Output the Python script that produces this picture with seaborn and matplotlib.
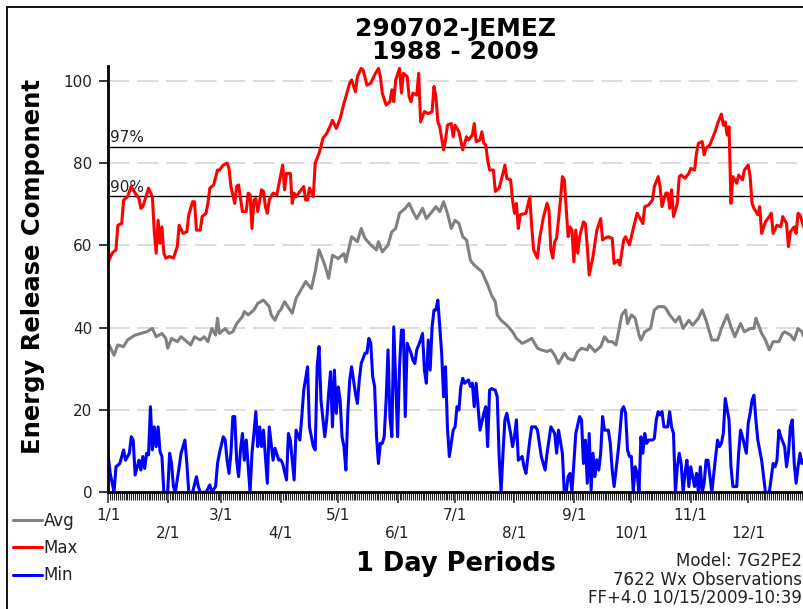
import pandas as pd
import matplotlib.pyplot as plt
import seaborn as sns
from matplotlib.patches import Rectangle
from matplotlib.ticker import FixedLocator, MultipleLocator

# day of year (0 = Jan 1) and value
max_days = [0, 2, 4, 5, 7, 8, 10, 12, 14, 16, 17, 18, 20, 21, 23, 24, 25, 26, 27, 28,
            29, 30, 32, 34, 36, 37, 39, 41, 42, 44, 45, 46, 48, 49, 51, 52, 53, 55, 57, 58,
            60, 62, 63, 64, 66, 67, 68, 70, 72, 73, 74, 75, 76, 77, 78, 80, 81, 82, 83, 84,
            86, 88, 90, 91, 92, 93, 95, 96, 97, 98, 100, 102, 103, 104, 105, 107, 108, 110, 111, 112,
            114, 116, 117, 119, 121, 123, 124, 126, 127, 129, 130, 132, 133, 135, 137, 139, 141, 142, 143, 145,
            147, 148, 149, 150, 152, 153, 154, 156, 157, 158, 159, 161, 162, 163, 165, 167, 169, 170, 171, 172,
            173, 175, 176, 177, 179, 180, 181, 183, 185, 187, 188, 190, 191, 192, 194, 195, 196, 197, 198, 199,
            201, 202, 204, 206, 207, 208, 210, 211, 212, 213, 214, 215, 218, 220, 221, 222, 224, 225, 227, 229,
            230, 231, 232, 233, 234, 236, 237, 238, 240, 241, 242, 243, 244, 245, 246, 248, 249, 250, 251, 253,
            254, 255, 257, 258, 259, 261, 263, 264, 266, 267, 269, 270, 272, 273, 274, 276, 277, 279, 280, 282,
            284, 285, 286, 287, 288, 289, 291, 292, 293, 294, 295, 297, 298, 299, 301, 303, 304, 306, 307, 308,
            310, 311, 312, 314, 315, 317, 318, 320, 321, 322, 323, 324, 325, 326, 328, 329, 331, 332, 334, 335,
            336, 337, 339, 340, 341, 343, 345, 346, 347, 349, 351, 352, 354, 355, 356, 358, 359, 360, 361, 363,
            364]
max_vals = [56.0, 58.1, 58.9, 64.9, 65.3, 71.0, 71.8, 74.3, 72.7, 71.4, 69.0, 69.4, 72.3, 73.9, 71.8, 63.3, 58.1, 66.1, 60.5, 64.5,
            58.1, 56.9, 57.3, 56.9, 59.7, 64.9, 62.9, 63.3, 67.4, 70.6, 70.6, 63.7, 63.7, 67.0, 67.8, 70.2, 73.9, 74.7, 78.3, 78.3,
            79.5, 80.0, 78.7, 74.3, 70.2, 74.3, 74.7, 68.2, 68.2, 72.7, 72.3, 64.1, 71.0, 71.4, 68.2, 73.5, 73.1, 69.4, 67.8, 71.0,
            72.7, 72.3, 77.1, 79.5, 73.5, 77.5, 77.5, 70.2, 72.7, 71.8, 73.1, 74.3, 71.0, 71.0, 73.9, 71.8, 80.0, 82.4, 84.0, 86.0,
            87.2, 89.2, 90.4, 88.4, 90.8, 94.5, 96.1, 99.4, 100.2, 97.3, 101.0, 103.0, 102.6, 98.9, 99.4, 101.4, 103.0, 101.0, 97.0, 94.1,
            94.9, 97.8, 94.9, 100.2, 103.0, 97.0, 101.8, 101.0, 96.1, 94.9, 97.0, 96.5, 101.8, 90.0, 92.5, 92.0, 92.5, 98.6, 96.1, 90.0,
            88.8, 83.2, 85.6, 89.2, 89.6, 86.4, 89.2, 87.6, 83.2, 86.4, 85.6, 86.8, 89.6, 85.2, 85.6, 87.6, 84.8, 84.4, 80.8, 78.3,
            78.3, 73.1, 73.9, 77.5, 79.5, 76.3, 75.9, 71.0, 67.8, 70.2, 64.1, 67.4, 67.8, 71.8, 64.5, 58.9, 56.9, 61.3, 66.6, 70.2,
            68.6, 58.9, 56.9, 60.9, 61.7, 71.0, 76.7, 75.9, 62.1, 64.5, 63.7, 56.0, 63.7, 58.1, 62.1, 65.7, 65.3, 59.7, 52.8, 57.3,
            60.5, 63.7, 66.5, 61.3, 61.7, 62.1, 61.7, 55.6, 56.4, 55.2, 61.3, 62.1, 60.1, 62.1, 64.1, 67.8, 67.0, 65.3, 69.4, 69.8,
            71.0, 74.3, 75.5, 76.7, 74.3, 69.4, 72.7, 72.7, 69.0, 73.5, 67.0, 70.2, 76.7, 77.1, 76.3, 77.5, 78.7, 78.3, 82.4, 84.8,
            85.2, 82.0, 83.6, 84.4, 85.6, 88.0, 89.6, 91.9, 89.2, 90.0, 86.8, 88.8, 70.2, 76.7, 75.1, 77.1, 75.9, 78.3, 79.5, 76.7,
            70.2, 69.0, 67.4, 69.4, 62.9, 65.7, 67.0, 67.8, 62.9, 64.9, 64.5, 67.0, 65.3, 59.7, 63.3, 64.5, 62.9, 67.8, 67.4, 64.5,
            62.5]

avg_days = [0, 3, 5, 8, 10, 14, 17, 20, 23, 25, 28, 30, 31, 33, 36, 38, 41, 43, 45, 48,
            50, 52, 54, 56, 57, 58, 61, 63, 65, 67, 70, 71, 73, 76, 78, 81, 84, 85, 87, 89,
            90, 92, 96, 98, 103, 106, 108, 110, 113, 115, 117, 120, 123, 124, 127, 130, 132, 134, 137, 140,
            141, 143, 146, 148, 150, 152, 155, 157, 159, 161, 164, 166, 169, 171, 173, 175, 177, 179, 181, 183,
            185, 187, 189, 191, 195, 198, 200, 202, 203, 205, 208, 211, 213, 216, 218, 221, 224, 226, 229, 231,
            233, 235, 238, 240, 243, 245, 247, 250, 251, 254, 257, 259, 261, 263, 265, 266, 268, 270, 271, 273,
            275, 277, 278, 280, 283, 285, 287, 290, 291, 293, 296, 298, 300, 303, 305, 308, 310, 312, 315, 318,
            320, 323, 325, 327, 330, 332, 335, 337, 338, 341, 343, 345, 347, 350, 352, 353, 356, 358, 360, 362,
            363, 365]
avg_vals = [36.2, 33.3, 35.8, 35.4, 37.0, 38.2, 38.6, 39.0, 39.8, 37.8, 38.6, 37.4, 35.0, 37.4, 36.6, 37.8, 36.6, 35.8, 37.8, 37.0,
            37.8, 36.6, 39.8, 38.2, 42.3, 38.6, 39.8, 38.6, 39.0, 41.0, 42.7, 43.9, 43.1, 44.3, 45.9, 46.7, 45.1, 43.1, 41.8, 43.9,
            44.3, 46.3, 43.5, 47.1, 51.2, 49.5, 53.6, 58.9, 55.2, 52.0, 57.6, 56.8, 58.0, 56.0, 62.1, 60.9, 64.1, 61.7, 60.1, 58.9,
            60.9, 58.4, 60.1, 63.3, 64.1, 67.8, 69.0, 70.2, 68.2, 66.5, 69.0, 66.5, 68.2, 69.4, 68.2, 70.6, 67.8, 64.1, 66.1, 65.3,
            62.1, 61.3, 56.4, 55.2, 53.6, 50.4, 47.9, 46.3, 43.1, 41.8, 40.6, 39.0, 37.4, 36.2, 36.6, 37.4, 35.0, 34.6, 34.2, 34.6,
            33.3, 31.3, 33.8, 32.5, 32.1, 34.2, 35.0, 34.6, 35.8, 34.2, 35.4, 37.8, 36.6, 36.6, 35.8, 38.2, 43.1, 44.3, 41.0, 43.1,
            42.3, 38.2, 37.0, 39.0, 39.8, 44.3, 45.1, 45.1, 44.7, 43.1, 41.4, 42.7, 39.8, 41.8, 40.6, 42.3, 44.3, 41.8, 37.0, 37.0,
            39.8, 43.1, 40.2, 37.8, 41.0, 39.0, 39.8, 39.8, 42.3, 38.6, 37.0, 34.6, 36.6, 36.6, 38.6, 39.0, 38.2, 37.0, 39.8, 39.0,
            37.8, 38.5]

min_days = [0, 1, 3, 4, 6, 8, 9, 11, 12, 13, 14, 16, 17, 18, 19, 20, 21, 22, 23, 24,
            25, 26, 27, 28, 29, 31, 32, 33, 34, 35, 37, 38, 40, 41, 42, 44, 46, 47, 48, 51,
            53, 54, 56, 57, 58, 60, 61, 62, 63, 64, 65, 66, 67, 68, 69, 70, 71, 72, 73, 74,
            75, 76, 77, 78, 79, 80, 81, 83, 84, 85, 86, 87, 89, 90, 91, 93, 94, 95, 97, 98,
            100, 101, 102, 104, 105, 107, 108, 109, 110, 111, 113, 114, 115, 116, 117, 118, 119, 120, 121, 122,
            123, 124, 125, 126, 127, 129, 130, 131, 132, 134, 135, 136, 137, 138, 139, 140, 141, 142, 143, 144,
            145, 146, 147, 148, 149, 150, 151, 152, 153, 154, 155, 156, 158, 159, 160, 161, 163, 164, 165, 166,
            167, 168, 169, 170, 171, 172, 173, 174, 175, 176, 177, 178, 179, 180, 181, 182, 183, 184, 185, 186,
            188, 189, 190, 191, 192, 193, 194, 196, 197, 198, 199, 200, 202, 203, 204, 205, 206, 207, 208, 210,
            211, 212, 213, 214, 216, 217, 218, 220, 221, 223, 224, 226, 228, 229, 231, 233, 234, 235, 237, 238,
            239, 240, 241, 242, 243, 244, 246, 247, 248, 249, 250, 251, 252, 253, 254, 255, 256, 257, 258, 259,
            261, 262, 263, 264, 266, 267, 268, 269, 270, 271, 272, 273, 274, 275, 276, 277, 278, 279, 280, 281,
            282, 284, 285, 286, 287, 288, 289, 290, 292, 293, 294, 295, 296, 297, 298, 299, 300, 301, 302, 303,
            304, 306, 307, 308, 309, 310, 311, 312, 313, 314, 315, 317, 318, 319, 320, 321, 322, 324, 325, 326,
            328, 329, 330, 331, 333, 334, 335, 336, 337, 338, 339, 341, 342, 343, 345, 347, 348, 349, 350, 351,
            353, 354, 355, 356, 357, 358, 359, 360, 361, 362, 363]
min_vals = [8.7, 4.6, 0.0, 6.2, 7.0, 10.3, 7.8, 9.5, 13.5, 12.7, 4.2, 7.8, 5.4, 8.7, 5.8, 9.5, 9.1, 20.8, 10.3, 15.9,
            11.1, 15.9, 9.9, 8.7, 0.0, 0.0, 9.5, 7.0, 1.4, 0.0, 6.2, 9.5, 12.7, 7.0, 0.0, 0.0, 3.8, 1.4, 0.0, 0.0,
            1.8, 0.0, 1.4, 7.0, 9.5, 13.5, 12.7, 7.8, 4.6, 9.5, 18.4, 18.4, 7.8, 3.8, 10.3, 14.3, 7.8, 12.7, 6.2, 0.0,
            9.5, 14.3, 19.6, 11.1, 15.9, 11.1, 15.1, 2.2, 15.9, 11.9, 7.8, 10.7, 7.8, 7.9, 7.0, 3.0, 14.3, 12.7, 3.0, 15.1,
            12.7, 18.4, 24.8, 30.5, 15.9, 11.1, 10.3, 30.5, 35.4, 22.4, 13.5, 17.6, 24.0, 29.3, 15.9, 29.7, 19.2, 25.6, 22.4, 13.5,
            11.1, 5.4, 19.2, 27.3, 30.5, 24.0, 21.6, 27.3, 31.3, 33.8, 33.8, 37.4, 36.2, 28.1, 25.7, 13.5, 7.0, 11.9, 11.9, 13.5,
            22.4, 34.6, 18.4, 13.5, 40.2, 26.5, 13.5, 30.5, 39.4, 39.4, 18.4, 36.2, 33.8, 32.1, 31.3, 34.6, 37.0, 38.6, 29.7, 26.5,
            37.0, 29.7, 40.2, 44.3, 44.3, 46.7, 40.2, 33.8, 23.2, 30.5, 15.9, 8.7, 11.9, 15.1, 15.9, 20.8, 20.0, 25.7, 27.7, 26.5,
            27.3, 25.7, 26.5, 20.8, 26.5, 20.8, 15.1, 19.2, 20.8, 11.1, 24.8, 25.2, 24.8, 23.2, 8.7, 0.0, 9.5, 17.6, 19.2, 14.3,
            11.1, 13.5, 17.6, 7.8, 8.7, 6.2, 4.6, 12.7, 15.9, 15.9, 15.1, 8.7, 5.4, 9.5, 15.9, 14.3, 9.5, 15.1, 9.5, 0.0,
            0.0, 3.8, 4.6, 0.0, 7.0, 14.3, 18.4, 17.6, 7.0, 12.7, 2.2, 14.3, 0.6, 9.5, 3.8, 7.9, 5.4, 9.5, 18.4, 15.1,
            15.1, 11.9, 5.4, 1.4, 9.5, 14.3, 20.0, 20.8, 19.2, 10.3, 8.7, 8.7, 0.0, 6.2, 4.6, 0.0, 13.5, 9.5, 14.3, 11.9,
            12.7, 12.7, 13.1, 17.6, 19.6, 18.8, 19.6, 15.9, 15.9, 19.6, 15.9, 14.3, 0.0, 6.2, 9.5, 7.0, 0.0, 4.6, 7.8, 1.4,
            6.2, 1.4, 4.6, 0.0, 6.2, 0.0, 2.2, 7.8, 7.8, 3.8, 0.0, 8.7, 12.7, 11.1, 11.9, 14.3, 22.8, 17.6, 6.2, 1.4,
            1.4, 9.5, 15.1, 13.5, 9.5, 16.8, 19.2, 22.4, 23.6, 17.6, 12.7, 7.8, 3.8, 0.0, 0.0, 7.0, 6.2, 7.8, 15.1, 13.5,
            11.1, 6.2, 9.5, 15.9, 17.6, 7.0, 2.2, 6.2, 9.5, 7.0, 8.0]

month_days = [0, 31, 59, 90, 120, 151, 181, 212, 243, 273, 304, 334]
month_labels = ["1/1", "2/1", "3/1", "4/1", "5/1", "6/1", "7/1", "8/1", "9/1", "10/1", "11/1", "12/1"]

avg_df = pd.DataFrame({"day": avg_days, "erc": avg_vals})
max_df = pd.DataFrame({"day": max_days, "erc": max_vals})
min_df = pd.DataFrame({"day": min_days, "erc": min_vals})

sns.set_style("white")
plt.rcParams["font.family"] = ["DejaVu Sans"]
plt.rcParams["text.color"] = "black"

fig = plt.figure(figsize=(8.04, 6.09), dpi=100)
ax = fig.add_axes([0.1347, 0.1916, 0.8698, 0.6995])

# dashed grid at the labelled levels
for lvl in [20, 40, 60, 80, 100]:
    ax.axhline(lvl, color="#d3d3d3", lw=1.1, ls=(0, (14, 5)), zorder=0)

# percentile lines
ax.axhline(84, color="black", lw=1.0, zorder=1)
ax.axhline(72, color="black", lw=1.0, zorder=1)
ax.text(1, 84.3, "97%", fontsize=11, color="#222222", va="bottom", ha="left")
ax.text(1, 72.3, "90%", fontsize=11, color="#222222", va="bottom", ha="left")

sns.lineplot(data=avg_df, x="day", y="erc", estimator=None, sort=False, color="#808080", lw=2.6, ax=ax, label="Avg")
sns.lineplot(data=max_df, x="day", y="erc", estimator=None, sort=False, color="#ff0000", lw=1.5, ax=ax, label="Max")
sns.lineplot(data=min_df, x="day", y="erc", estimator=None, sort=False, color="#0000ff", lw=1.5, ax=ax, label="Min")

ax.set_xlim(0, 365)
ax.set_ylim(0, 103.5)

# spines
for side in ["top", "right"]:
    ax.spines[side].set_visible(False)
for side in ["left", "bottom"]:
    ax.spines[side].set_linewidth(2)
    ax.spines[side].set_color("black")

# y axis
ax.set_yticks([0, 20, 40, 60, 80, 100])
ax.tick_params(axis="y", direction="out", length=6.5, width=1.1, pad=5, labelsize=11, colors="black", left=True)
for lbl in ax.get_yticklabels():
    lbl.set_color("#222222")

# x axis: month ticks, staggered labels, daily minor ticks
stagger = [lab if i % 2 == 0 else "\n" + lab for i, lab in enumerate(month_labels)]
ax.xaxis.set_major_locator(FixedLocator(month_days))
ax.set_xticklabels(stagger)
ax.xaxis.set_minor_locator(MultipleLocator(1))
ax.tick_params(axis="x", which="major", direction="out", length=8, width=1.1, pad=3, labelsize=11, bottom=True)
ax.tick_params(axis="x", which="minor", direction="out", length=5.5, width=0.8, bottom=True)
for lbl in ax.get_xticklabels():
    lbl.set_linespacing(1.3)
    lbl.set_color("#222222")

ax.set_xlabel("")
ax.set_ylabel("")

# legend in the lower left corner
handles, labels = ax.get_legend_handles_labels()
ax.get_legend().remove()
for h in handles:
    h.set_linewidth(2.2)
fig.legend(handles, labels, loc="upper left", bbox_to_anchor=(13 / 804, 1 - 512 / 609),
           frameon=False, fontsize=12, handlelength=1.75, handletextpad=0.1,
           labelspacing=0.55, borderpad=0, borderaxespad=0, labelcolor="#222222")

# titles and labels
fig.text(456 / 804, 1 - 29 / 609, "290702-JEMEZ", ha="center", va="center", fontsize=18, fontweight="bold")
fig.text(456 / 804, 1 - 52 / 609, "1988 - 2009", ha="center", va="center", fontsize=18, fontweight="bold")
fig.text(456 / 804, 1 - 564 / 609, "1 Day Periods", ha="center", va="center", fontsize=18.5, fontweight="bold")
fig.text(33 / 804, 1 - 267 / 609, "Energy Release Component", ha="center", va="center",
         rotation=90, fontsize=17.5, fontweight="bold")

fig.text(802 / 804, 1 - 561 / 609, "Model: 7G2PE2", ha="right", va="center", fontsize=12, color="#222222")
fig.text(802 / 804, 1 - 580 / 609, "7622 Wx Observations", ha="right", va="center", fontsize=12, color="#222222")
fig.text(802 / 804, 1 - 607 / 609, "FF+4.0 10/15/2009-10:39", ha="right", va="bottom", fontsize=12, color="#222222")

# outer frame, cut off at right and bottom like the original
fig.add_artist(Rectangle((7 / 804, -0.5), 2.0, 0.5 + (609 - 7) / 609, transform=fig.transFigure,
                         fill=False, ec="black", lw=1.3))

fig.savefig("out.png", dpi=100)
